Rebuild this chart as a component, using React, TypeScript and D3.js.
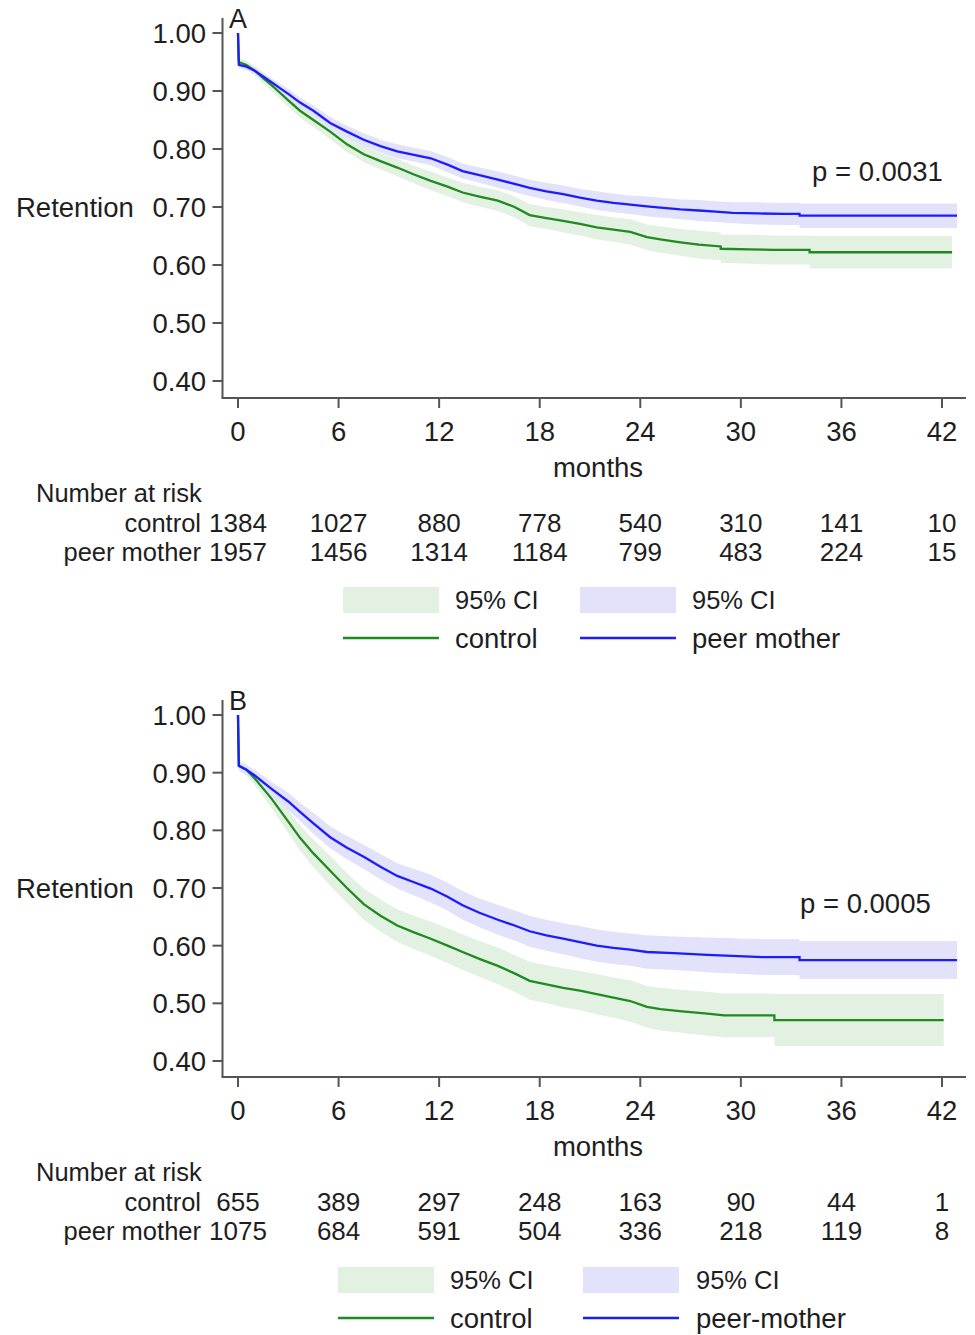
import React from 'react';
import * as d3 from 'd3';

// [months, retention, half-width of 95% CI]
type Pt = [number, number, number];

const monthTicks = [0, 6, 12, 18, 24, 30, 36, 42];
const retentionTicks = [0.4, 0.5, 0.6, 0.7, 0.8, 0.9, 1.0];

// Panel A
const controlA: Pt[] = [
  [0, 1.0, 0], [0.05, 0.95, 0.006], [0.5, 0.945, 0.007], [1, 0.935, 0.008], [1.5, 0.922, 0.009],
  [2, 0.91, 0.01], [2.5, 0.897, 0.01], [3, 0.884, 0.011], [3.7, 0.866, 0.012], [4.5, 0.85, 0.012],
  [5.5, 0.83, 0.013], [6.5, 0.808, 0.013], [7.5, 0.791, 0.014], [8.5, 0.779, 0.014], [9.5, 0.768, 0.015],
  [10.5, 0.756, 0.015], [11.5, 0.745, 0.016], [12.5, 0.735, 0.016], [13.4, 0.725, 0.017], [14.4, 0.718, 0.017],
  [15.5, 0.711, 0.018], [16.5, 0.7, 0.018], [17.4, 0.686, 0.019], [18.4, 0.681, 0.019], [19.4, 0.676, 0.02],
  [20.4, 0.671, 0.02], [21.4, 0.665, 0.021], [22.4, 0.661, 0.021], [23.4, 0.657, 0.022], [24.4, 0.648, 0.022],
  [25.2, 0.644, 0.023], [26.4, 0.639, 0.023], [27.5, 0.635, 0.024], [28.8, 0.632, 0.024], [28.8, 0.628, 0.024],
  [30.5, 0.627, 0.025], [32, 0.626, 0.025], [34.1, 0.626, 0.025], [34.1, 0.622, 0.028], [42.6, 0.622, 0.028],
];
const peerA: Pt[] = [
  [0, 1.0, 0], [0.05, 0.945, 0.005], [0.5, 0.942, 0.006], [1, 0.935, 0.006], [1.5, 0.925, 0.007],
  [2, 0.915, 0.007], [2.5, 0.905, 0.008], [3, 0.895, 0.008], [3.7, 0.88, 0.009], [4.5, 0.866, 0.009],
  [5.5, 0.845, 0.01], [6.5, 0.83, 0.01], [7.5, 0.816, 0.011], [8.5, 0.805, 0.011], [9.5, 0.796, 0.012],
  [10.5, 0.79, 0.012], [11.5, 0.784, 0.012], [12.5, 0.773, 0.013], [13.4, 0.762, 0.013], [14.4, 0.755, 0.013],
  [15.5, 0.747, 0.014], [16.5, 0.74, 0.014], [17.4, 0.733, 0.014], [18.4, 0.727, 0.015], [19.4, 0.722, 0.015],
  [20.4, 0.716, 0.015], [21.4, 0.711, 0.016], [22.4, 0.707, 0.016], [23.4, 0.704, 0.016], [24.4, 0.701, 0.017],
  [25.2, 0.699, 0.017], [26.4, 0.696, 0.017], [27.5, 0.694, 0.018], [28.5, 0.692, 0.018], [29.5, 0.69, 0.018],
  [31, 0.689, 0.019], [32.5, 0.688, 0.019], [33.5, 0.688, 0.019], [33.5, 0.685, 0.021], [42.9, 0.685, 0.021],
];
const riskControlA = [1384, 1027, 880, 778, 540, 310, 141, 10];
const riskPeerA = [1957, 1456, 1314, 1184, 799, 483, 224, 15];

// Panel B
const controlB: Pt[] = [
  [0, 1.0, 0], [0.05, 0.912, 0.008], [0.5, 0.905, 0.01], [1, 0.89, 0.012], [2, 0.855, 0.016],
  [3, 0.815, 0.02], [3.7, 0.787, 0.022], [4.5, 0.76, 0.024], [5.5, 0.73, 0.026], [6.5, 0.7, 0.026],
  [7.5, 0.672, 0.027], [8.5, 0.652, 0.028], [9.5, 0.635, 0.028], [10.5, 0.623, 0.029], [11.5, 0.612, 0.03],
  [12.5, 0.6, 0.03], [13.4, 0.589, 0.031], [14.4, 0.577, 0.031], [15.5, 0.565, 0.032], [16.5, 0.552, 0.032],
  [17.4, 0.539, 0.033], [18.4, 0.533, 0.033], [19.4, 0.527, 0.034], [20.4, 0.522, 0.034], [21.4, 0.516, 0.035],
  [22.4, 0.51, 0.035], [23.4, 0.504, 0.036], [24.4, 0.494, 0.036], [25.2, 0.49, 0.037], [26.5, 0.486, 0.037],
  [28, 0.482, 0.038], [29, 0.479, 0.038], [32, 0.479, 0.038], [32, 0.471, 0.045], [42.1, 0.471, 0.045],
];
const peerB: Pt[] = [
  [0, 1.0, 0], [0.05, 0.912, 0.007], [0.5, 0.905, 0.008], [1, 0.895, 0.01], [2, 0.872, 0.012],
  [3, 0.85, 0.015], [3.7, 0.832, 0.016], [4.5, 0.812, 0.018], [5.5, 0.788, 0.019], [6.5, 0.77, 0.02],
  [7.5, 0.754, 0.021], [8.5, 0.737, 0.022], [9.5, 0.721, 0.022], [10.5, 0.71, 0.023], [11.5, 0.699, 0.024],
  [12.5, 0.685, 0.024], [13.4, 0.67, 0.025], [14.4, 0.657, 0.025], [15.5, 0.645, 0.026], [16.5, 0.635, 0.026],
  [17.4, 0.625, 0.027], [18.4, 0.618, 0.027], [19.4, 0.612, 0.027], [20.4, 0.606, 0.028], [21.4, 0.6, 0.028],
  [22.4, 0.596, 0.028], [23.4, 0.593, 0.028], [24.4, 0.589, 0.029], [26, 0.587, 0.029], [28, 0.584, 0.03],
  [31.3, 0.58, 0.031], [33.5, 0.58, 0.031], [33.5, 0.575, 0.033], [42.9, 0.575, 0.033],
];
const riskControlB = [655, 389, 297, 248, 163, 90, 44, 1];
const riskPeerB = [1075, 684, 591, 504, 336, 218, 119, 8];

const GREEN = '#1f8a1f';
const BLUE = '#1c1cff';
const GREEN_CI = '#e3f1e3';
const BLUE_CI = '#e2e2fb';
const TEXT = '#1e1e1e';
const AXIS = '#555';
const FONT = '"Liberation Sans", Arial, sans-serif';

type PanelProps = {
  top: number; // y of 1.00
  bottom: number; // y of 0.40
  axisY: number;
  letter: string;
  pText: string;
  pX: number;
  pY: number;
  control: Pt[];
  peer: Pt[];
  riskControl: number[];
  riskPeer: number[];
  legendX: number[]; // green swatch x, green text x, blue swatch x, blue text x
  legendY: number;
  peerLabel: string;
};

const Panel = (p: PanelProps) => {
  const x = d3.scaleLinear().domain([0, 42]).range([238, 942]);
  const y = d3.scaleLinear().domain([0.4, 1.0]).range([p.bottom, p.top]);

  const line = d3.line<Pt>().x(d => x(d[0])).y(d => y(d[1]));
  const band = d3.area<Pt>()
    .x(d => x(d[0]))
    .y0(d => y(d[1] - d[2]))
    .y1(d => y(d[1] + d[2]));

  const axisLeft = 222.5;
  const tickLabelY = p.axisY + 33;
  const riskY = p.axisY + 95;

  return (
    <g fontFamily={FONT} fill={TEXT}>
      {/* CI bands */}
      <path d={band(p.control.slice(1)) || ''} fill={GREEN_CI} />
      <path d={band(p.peer.slice(1)) || ''} fill={BLUE_CI} />
      {/* survival curves */}
      <path d={line(p.control) || ''} fill="none" stroke={GREEN} strokeWidth={2.3} />
      <path d={line(p.peer) || ''} fill="none" stroke={BLUE} strokeWidth={2.3} />

      {/* y axis */}
      <line x1={axisLeft} x2={axisLeft} y1={p.top - 15} y2={p.axisY} stroke={AXIS} strokeWidth={2} />
      {retentionTicks.map(t => (
        <g key={t}>
          <line x1={axisLeft - 10} x2={axisLeft} y1={y(t)} y2={y(t)} stroke={AXIS} strokeWidth={2} />
          <text x={206} y={y(t)} dy="0.36em" textAnchor="end" fontSize={27.5}>{t.toFixed(2)}</text>
        </g>
      ))}
      <text x={16} y={y(0.7)} dy="0.36em" fontSize={27.5}>Retention</text>

      {/* x axis */}
      <line x1={axisLeft - 1} x2={966} y1={p.axisY} y2={p.axisY} stroke={AXIS} strokeWidth={2} />
      {monthTicks.map(t => (
        <g key={t}>
          <line x1={x(t)} x2={x(t)} y1={p.axisY} y2={p.axisY + 10} stroke={AXIS} strokeWidth={2} />
          <text x={x(t)} y={tickLabelY} dy="0.36em" textAnchor="middle" fontSize={27.5}>{t}</text>
        </g>
      ))}
      <text x={598} y={p.axisY + 69} dy="0.36em" textAnchor="middle" fontSize={27.5}>months</text>

      <text x={229} y={p.top - 15} dy="0.36em" fontSize={27}>{p.letter}</text>
      <text x={p.pX} y={p.pY} dy="0.36em" fontSize={27.5}>{p.pText}</text>

      {/* number at risk */}
      <text x={36} y={riskY} dy="0.36em" fontSize={25.5}>Number at risk</text>
      <text x={201} y={riskY + 30} dy="0.36em" textAnchor="end" fontSize={25.5}>control</text>
      <text x={201} y={riskY + 59} dy="0.36em" textAnchor="end" fontSize={25.5}>peer mother</text>
      {monthTicks.map((t, i) => (
        <g key={'r' + t}>
          <text x={x(t)} y={riskY + 30} dy="0.36em" textAnchor="middle" fontSize={26}>{p.riskControl[i]}</text>
          <text x={x(t)} y={riskY + 59} dy="0.36em" textAnchor="middle" fontSize={26}>{p.riskPeer[i]}</text>
        </g>
      ))}

      {/* legend */}
      <rect x={p.legendX[0]} y={p.legendY - 13} width={96} height={26} fill={GREEN_CI} />
      <text x={p.legendX[1]} y={p.legendY} dy="0.36em" fontSize={25.5}>95% CI</text>
      <rect x={p.legendX[2]} y={p.legendY - 13} width={96} height={26} fill={BLUE_CI} />
      <text x={p.legendX[3]} y={p.legendY} dy="0.36em" fontSize={25.5}>95% CI</text>
      <line x1={p.legendX[0]} x2={p.legendX[0] + 96} y1={p.legendY + 38} y2={p.legendY + 38} stroke={GREEN} strokeWidth={2.3} />
      <text x={p.legendX[1]} y={p.legendY + 38} dy="0.36em" fontSize={27.5}>control</text>
      <line x1={p.legendX[2]} x2={p.legendX[2] + 96} y1={p.legendY + 38} y2={p.legendY + 38} stroke={BLUE} strokeWidth={2.3} />
      <text x={p.legendX[3]} y={p.legendY + 38} dy="0.36em" fontSize={27.5}>{p.peerLabel}</text>
    </g>
  );
};

export default function App() {
  return (
    <svg width={975} height={1335} style={{ position: 'absolute', left: 0, top: 0, background: '#fff' }}>
      <rect width={975} height={1335} fill="#fff" />
      <Panel
        top={33} bottom={381} axisY={398} letter="A"
        pText="p = 0.0031" pX={812} pY={171}
        control={controlA} peer={peerA}
        riskControl={riskControlA} riskPeer={riskPeerA}
        legendX={[343, 455, 580, 692]} legendY={600}
        peerLabel="peer mother"
      />
      <Panel
        top={715} bottom={1061} axisY={1077} letter="B"
        pText="p = 0.0005" pX={800} pY={903}
        control={controlB} peer={peerB}
        riskControl={riskControlB} riskPeer={riskPeerB}
        legendX={[338, 450, 583, 696]} legendY={1280}
        peerLabel="peer-mother"
      />
    </svg>
  );
}
